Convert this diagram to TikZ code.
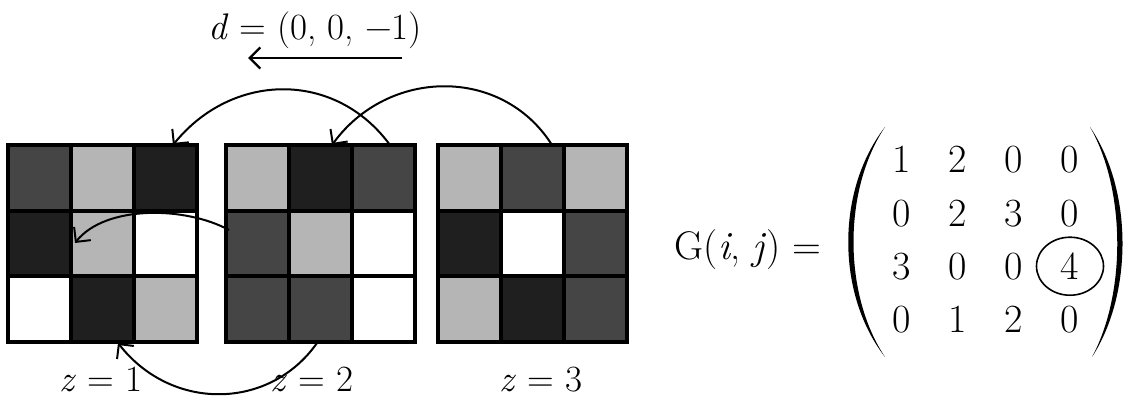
\documentclass[tikz,border=0pt]{standalone}
\usepackage{fontspec}
\usepackage{amsmath}
\usepackage{tikz}
\usetikzlibrary{arrows.meta, shapes.geometric}
\definecolor{gblack}{gray}{0.12}
\definecolor{gdark}{gray}{0.27}
\definecolor{glight}{gray}{0.71}

\tikzset{
  flow/.style={line width=2pt, -{Straight Barb[angle=90:15pt]}},
  biglabel/.style={anchor=base, inner sep=0pt, font=\fontsize{37}{40}\selectfont\addfontfeatures{FakeBold=1.2}},
  entry/.style={anchor=base, inner sep=0pt, font=\fontsize{40}{44}\selectfont\addfontfeatures{FakeBold=1.2}}
}

\begin{document}
\begin{tikzpicture}[x=1pt, y=-1pt]
  \useasboundingbox (0,0) rectangle (1125,398);

  % Slice z=1
  \fill[black] (6,143) rectangle ++(193,201);
  \foreach \shade [count=\k from 0] in {gdark,glight,gblack, gblack,glight,white, white,gblack,glight}{
    \pgfmathtruncatemacro{\r}{int(\k/3)}
    \pgfmathtruncatemacro{\c}{mod(\k,3)}
    \fill[\shade] (8+\c*63+2, 145+\r*65.67+2) rectangle ++(59,61.67);
  }
  % Slice z=2
  \fill[black] (224,143) rectangle ++(193,201);
  \foreach \shade [count=\k from 0] in {glight,gblack,gdark, gdark,glight,white, gdark,gdark,white}{
    \pgfmathtruncatemacro{\r}{int(\k/3)}
    \pgfmathtruncatemacro{\c}{mod(\k,3)}
    \fill[\shade] (226+\c*63+2, 145+\r*65.67+2) rectangle ++(59,61.67);
  }
  % Slice z=3
  \fill[black] (436,143) rectangle ++(193,201);
  \foreach \shade [count=\k from 0] in {glight,gdark,glight, gblack,white,gdark, glight,gblack,gdark}{
    \pgfmathtruncatemacro{\r}{int(\k/3)}
    \pgfmathtruncatemacro{\c}{mod(\k,3)}
    \fill[\shade] (438+\c*63+2, 145+\r*65.67+2) rectangle ++(59,61.67);
  }

  % Direction
  \node[biglabel] (dlab) at (315,40) {\textit{d} = (0, 0, −1)};
  \coordinate (dS) at (402,58);
  \coordinate (dE) at (248,58);
  \draw[line width=2.4pt, -{Straight Barb[angle=90:15pt]}] (dS) -- (dE);

  % Moves between slices
  \coordinate (t1s) at (390,145);
  \coordinate (t1e) at (173,145);
  \draw[flow] (t1s) .. controls (335,70) and (232,72) .. (t1e);
  \coordinate (t2s) at (552,145);
  \coordinate (t2e) at (332,145);
  \draw[flow] (t2s) .. controls (502,66) and (388,68) .. (t2e);
  \coordinate (m1s) at (229,230);
  \coordinate (m1e) at (75,243);
  \draw[flow] (m1s) .. controls (185,206) and (105,205) .. (m1e);
  \coordinate (b1s) at (317,343);
  \coordinate (b1e) at (118,343);
  \draw[flow] (b1s) .. controls (270,410) and (172,412) .. (b1e);

  % Slice labels
  \node[biglabel] (z1) at (101,391) {\textit{z} = 1};
  \node[biglabel] (z2) at (312,391) {\textit{z} = 2};
  \node[biglabel] (z3) at (541,391) {\textit{z} = 3};

  % Matrix
  \node[entry] (glab) at (748,260) {G(\textit{i}, \textit{j}) =};
  \foreach \row [count=\r] in {{1,2,0,0},{0,2,3,0},{3,0,0,4},{0,1,2,0}}{
    \foreach \v [count=\c] in \row{
      \node[entry] (m-\r-\c) at (846+\c*56, 119.7+\r*53.3) {\v};
    }
  }
  \node[draw, ellipse, line width=1.6pt, minimum width=67pt, minimum height=58pt] (ring) at (m-3-4.center) {};

  % Parentheses
  \fill (885,127) .. controls (836,190) and (836,294) .. (885,357)
        .. controls (843,294) and (843,190) .. (885,127) -- cycle;
  \fill (1090,127) .. controls (1133,190) and (1133,294) .. (1092,357)
        .. controls (1126,294) and (1126,190) .. (1090,127) -- cycle;
\end{tikzpicture}
\end{document}
